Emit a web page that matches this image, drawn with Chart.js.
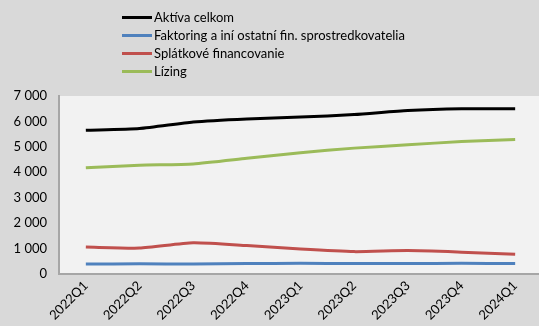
<!DOCTYPE html>
<html><head><meta charset="utf-8">
<script src="https://cdn.jsdelivr.net/npm/chart.js@4"></script>
<style>
html,body{margin:0;padding:0;background:#d9d9d9;overflow:hidden;}
#wrap{position:relative;width:539px;height:326px;overflow:hidden;}
#c{position:absolute;left:0;top:0;}
#legend{position:absolute;left:122px;top:8px;font-family:Lato,sans-serif;font-size:13px;color:#000;}
.li{height:18px;line-height:18px;display:flex;align-items:center;}
.sw{width:30px;height:3px;margin-right:2px;}
</style></head>
<body><div id="wrap"><canvas id="c" width="545" height="326"></canvas><div id="legend"></div></div>
<script>
const categories = ["2022Q1","2022Q2","2022Q3","2022Q4","2023Q1","2023Q2","2023Q3","2023Q4","2024Q1"];
const aktiva = [5650,5720,5980,6100,6170,6270,6430,6500,6500];
const faktoring = [390,400,390,410,420,410,410,420,410];
const splatkove = [1060,1020,1230,1120,980,880,920,860,780];
const lizing = [4180,4280,4330,4550,4770,4950,5080,5210,5290];
const seriesNames = ["Aktíva celkom","Faktoring a iní ostatní fin. sprostredkovatelia","Splátkové financovanie","Lízing"];
const colors = ["#000000","#4f81bd","#c0504d","#9bbb59"];
const yTicks = [0,1000,2000,3000,4000,5000,6000,7000];

const data = [aktiva, faktoring, splatkove, lizing];
const datasets = data.map((d,i)=>({label:seriesNames[i],data:d,borderColor:colors[i],backgroundColor:colors[i],borderWidth:3,pointRadius:0,tension:0.2,fill:false}));

const leg = document.getElementById('legend');
seriesNames.forEach((n,i)=>{
  const r=document.createElement('div');r.className='li';
  const s=document.createElement('div');s.className='sw';s.style.background=colors[i];
  const t=document.createElement('span');t.textContent=n;
  r.appendChild(s);r.appendChild(t);leg.appendChild(r);
});

const bgPlugin={id:'bg',beforeDraw(ch){const a=ch.chartArea,c=ch.ctx;c.save();c.fillStyle='#f2f2f2';c.fillRect(a.left,a.top,a.right-a.left,a.bottom-a.top);c.restore();}};
const font={family:'Lato, sans-serif',size:13};
new Chart(document.getElementById('c'),{
  type:'line',
  data:{labels:categories,datasets},
  options:{
    responsive:false,animation:false,
    layout:{padding:{top:96,left:0,right:3,bottom:0}},
    plugins:{legend:{display:false},tooltip:{enabled:false}},
    scales:{
      x:{offset:true,grid:{display:false,drawTicks:false},border:{color:'#a6a6a6',width:2},
         ticks:{color:'#000',font,minRotation:45,maxRotation:45,padding:4},
         afterFit(s){s.height=52;}},
      y:{min:0,max:7000,grid:{display:false,drawTicks:false},border:{color:'#a6a6a6',width:2},
         afterBuildTicks(s){s.ticks=yTicks.map(v=>({value:v}));},
         ticks:{color:'#000',font,padding:12,callback:v=>String(v).replace(/\B(?=(\d{3})+(?!\d))/g,' ')},
         afterFit(s){s.width=59;}}
    }
  },
  plugins:[bgPlugin]
});
</script></body></html>
